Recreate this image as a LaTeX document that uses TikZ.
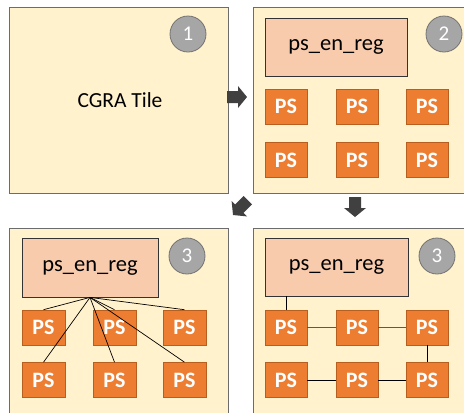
\documentclass[tikz,border=0pt]{standalone}
\usepackage{fontspec}
\setmainfont{Carlito}
\begin{document}
\begin{tikzpicture}[x=1pt,y=-1pt,
  panel/.style={draw=gray!85!black, line width=1.2pt, fill=panelfill, inner sep=0pt, minimum width=219pt, minimum height=186pt, anchor=north west},
  reg/.style={draw=black!80, line width=0.8pt, fill=regfill, inner sep=0pt, font=\fontsize{22.5}{24}\selectfont},
  ps/.style={draw=psborder, line width=0.6pt, fill=psfill, inner sep=0pt, minimum width=42pt, minimum height=35pt, text=white, font=\fontsize{22}{24}\selectfont\bfseries},
  num/.style={circle, draw=gray!90!black, line width=0.8pt, fill=numfill, minimum size=36pt, inner sep=0pt, text=white, font=\fontsize{21}{22}\selectfont},
  blk/.style={fill=arrowfill},
  wire/.style={draw=black, line width=0.7pt},
  wiregray/.style={draw=gray!70!black, line width=0.8pt}
]
\definecolor{panelfill}{HTML}{FFF2CC}
\definecolor{regfill}{HTML}{F8CBAD}
\definecolor{psfill}{HTML}{ED7D31}
\definecolor{psborder}{HTML}{B85F20}
\definecolor{numfill}{HTML}{A6A6A6}
\definecolor{arrowfill}{HTML}{404040}
\useasboundingbox (0,0) rectangle (464,413);
\clip (0,0) rectangle (464,413);

% panels
\node[panel] (pan1) at (9,7) {};
\node[panel] (pan2) at (253,7) {};
\node[panel] (pan3) at (9,228) {};
\node[panel] (pan4) at (253,228) {};

% panel 1
\node[font=\fontsize{21.5}{24}\selectfont] (cgra) at (120,100) {CGRA Tile};
\node[num] (n1) at (188,34) {1};

% panel 2
\node[reg, minimum width=142pt, minimum height=58pt] (r2) at (336,47) {ps\_en\_reg};
\node[num] (n2) at (444,34) {2};
\node[ps] (a1) at (286,106.5) {PS};
\node[ps] (a2) at (357,106.5) {PS};
\node[ps] (a3) at (427,106.5) {PS};
\node[ps] (a4) at (286,160) {PS};
\node[ps] (a5) at (357,160) {PS};
\node[ps] (a6) at (427,160) {PS};

% panel 3
\node[reg, minimum width=136pt, minimum height=59pt] (r3) at (90,267.5) {ps\_en\_reg};
\node[num] (n3) at (187,256) {3};
\node[ps, minimum width=43pt] (b1) at (43.5,327.5) {PS};
\node[ps, minimum width=43pt] (b2) at (114.5,327.5) {PS};
\node[ps, minimum width=43pt] (b3) at (184.5,327.5) {PS};
\node[ps, minimum width=43pt] (b4) at (43.5,380) {PS};
\node[ps, minimum width=43pt] (b5) at (114.5,380) {PS};
\node[ps, minimum width=43pt] (b6) at (184.5,380) {PS};
\foreach \t in {b1,b2,b3,b4,b5,b6}
  \draw[wire] (r3.south) -- (\t.north);

% panel 4
\node[reg, minimum width=143pt, minimum height=58pt] (r4) at (336.5,267) {ps\_en\_reg};
\node[num] (n4) at (437,256) {3};
\node[ps] (c1) at (286,327.5) {PS};
\node[ps] (c2) at (357,327.5) {PS};
\node[ps] (c3) at (427,327.5) {PS};
\node[ps] (c4) at (286,380) {PS};
\node[ps] (c5) at (357,380) {PS};
\node[ps] (c6) at (427,380) {PS};
\draw[wire] (r4.south -| c1.north) -- (c1.north);
\draw[wiregray] (c1.east) -- (c2.west);
\draw[wiregray] (c2.east) -- (c3.west);
\draw[wire] (c3.south) -- (c6.north);
\draw[wire] (c4.east) -- (c5.west);
\draw[wire] (c5.east) -- (c6.west);

% block arrows
\fill[blk, shift={(247,97)}] (0,0) -- (-9,-11) -- (-9,-6) -- (-20,-6) -- (-20,6) -- (-9,6) -- (-9,11) -- cycle;
\fill[blk, shift={(355,217)}, rotate=270] (0,0) -- (-9,-11) -- (-9,-6) -- (-20,-6) -- (-20,6) -- (-9,6) -- (-9,11) -- cycle;
\fill[blk, shift={(233,215)}, rotate=225] (0,0) -- (-9,-11) -- (-9,-6) -- (-21,-6) -- (-21,6) -- (-9,6) -- (-9,11) -- cycle;
\end{tikzpicture}
\end{document}
